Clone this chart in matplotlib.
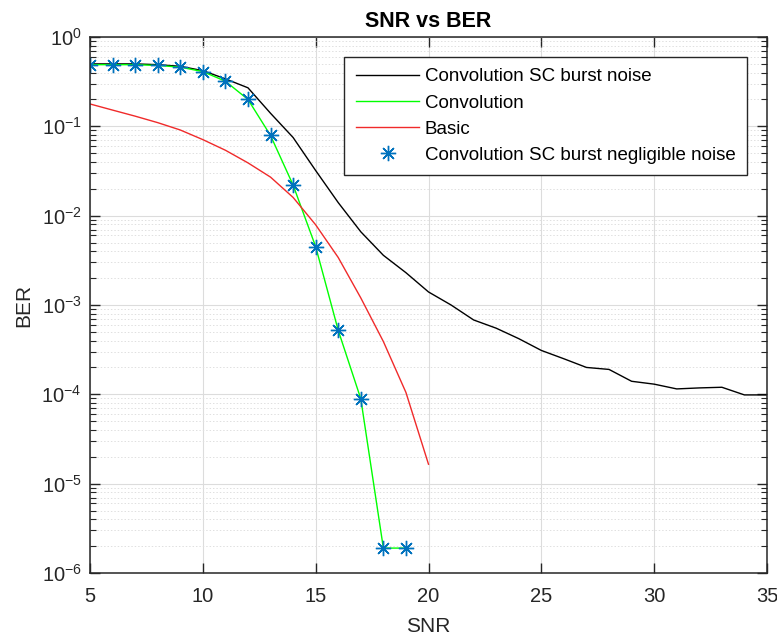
import numpy as np
import matplotlib
matplotlib.use("Agg")
import matplotlib.pyplot as plt
from matplotlib.ticker import LogLocator, LogFormatterMathtext, NullFormatter, MultipleLocator

plt.rcParams["font.family"] = ["Liberation Sans", "DejaVu Sans"]
plt.rcParams["mathtext.fontset"] = "custom"
plt.rcParams["mathtext.rm"] = "Liberation Sans"
plt.rcParams["mathtext.it"] = "Liberation Sans:italic"
plt.rcParams["mathtext.bf"] = "Liberation Sans:bold"

# SNR axis
snr_burst = np.arange(5, 36)
snr_conv = np.arange(5, 20)
snr_basic = np.arange(5, 21)

# BER values
ber_burst = [0.50, 0.50, 0.50, 0.49, 0.47, 0.42, 0.34, 0.27, 0.14, 0.075,
             0.032, 0.014, 0.0066, 0.0036, 0.0023, 0.0014, 0.001, 0.00068,
             0.00055, 0.00042, 0.00031, 0.00025, 0.00020, 0.00019, 0.00014,
             0.00013, 0.000115, 0.000118, 0.00012, 0.0000985, 0.0000985]
ber_conv = [0.49, 0.49, 0.49, 0.48, 0.46, 0.41, 0.32, 0.20, 0.079, 0.022,
            0.0045, 0.00052, 0.000089, 0.0000019, 0.0000019]
ber_basic = [0.178, 0.152, 0.13, 0.11, 0.091, 0.071, 0.054, 0.039, 0.027,
             0.016, 0.0079, 0.0034, 0.0012, 0.00039, 0.000105, 0.0000165]

y_ticks = [1e-6, 1e-5, 1e-4, 1e-3, 1e-2, 1e-1, 1e0]

labels = ["Convolution SC burst noise", "Convolution", "Basic",
          "Convolution SC burst negligible noise"]

fig = plt.figure(figsize=(7.77, 6.41), dpi=100)
ax = fig.add_axes([90 / 777, 68 / 641, 677 / 777, 536 / 641])

ax.semilogy(snr_burst, ber_burst, color="k", lw=1.0, label=labels[0])
ax.semilogy(snr_conv, ber_conv, color=(0, 1, 0), lw=1.0, label=labels[1])
ax.semilogy(snr_basic, ber_basic, color="#f02a2a", lw=1.0, label=labels[2])
ax.semilogy(snr_conv, ber_conv, ls="none", marker=(8, 2, 0), ms=11,
            mew=1.0, color="#0072BD", label=labels[3])

ax.set_xlim(5, 35)
ax.set_ylim(1e-6, 1)
ax.xaxis.set_major_locator(MultipleLocator(5))
ax.set_yticks(y_ticks)
ax.yaxis.set_major_formatter(LogFormatterMathtext())
ax.yaxis.set_minor_locator(LogLocator(base=10, subs=np.arange(2, 10), numticks=20))
ax.yaxis.set_minor_formatter(NullFormatter())
ax.set_ylim(1e-6, 1)

ax.grid(which="major", color="#dcdcdc", lw=0.8)
ax.yaxis.grid(which="minor", color="#e0e0e0", lw=0.7, ls=(0, (1.5, 2)))
ax.set_axisbelow(True)

ax.tick_params(which="both", direction="in", top=True, right=True,
               colors="#262626", labelcolor="#262626")
ax.tick_params(which="major", length=7, width=1.0, labelsize=14.5)
ax.tick_params(axis="x", which="major", pad=10)
ax.tick_params(axis="y", which="major", pad=6)
ax.tick_params(which="minor", length=4, width=0.8)
for s in ax.spines.values():
    s.set_color("#262626")
    s.set_linewidth(1.1)

ax.set_xlabel("SNR", fontsize=15, color="#262626", labelpad=8)
ax.set_ylabel("BER", fontsize=15, color="#262626", labelpad=6)
ax.set_title("SNR vs BER", fontsize=15.5, fontweight="bold", pad=7)

leg = ax.legend(loc="upper right", bbox_to_anchor=(747 / 777, 1 - 57 / 641),
                bbox_transform=fig.transFigure, borderaxespad=0,
                fontsize=13.5, handlelength=3.4, handletextpad=0.3,
                labelspacing=0.48, borderpad=0.6, fancybox=False,
                framealpha=1, edgecolor="#262626")
leg.get_frame().set_linewidth(1.0)

plt.savefig("out.png", dpi=100)
plt.close()
